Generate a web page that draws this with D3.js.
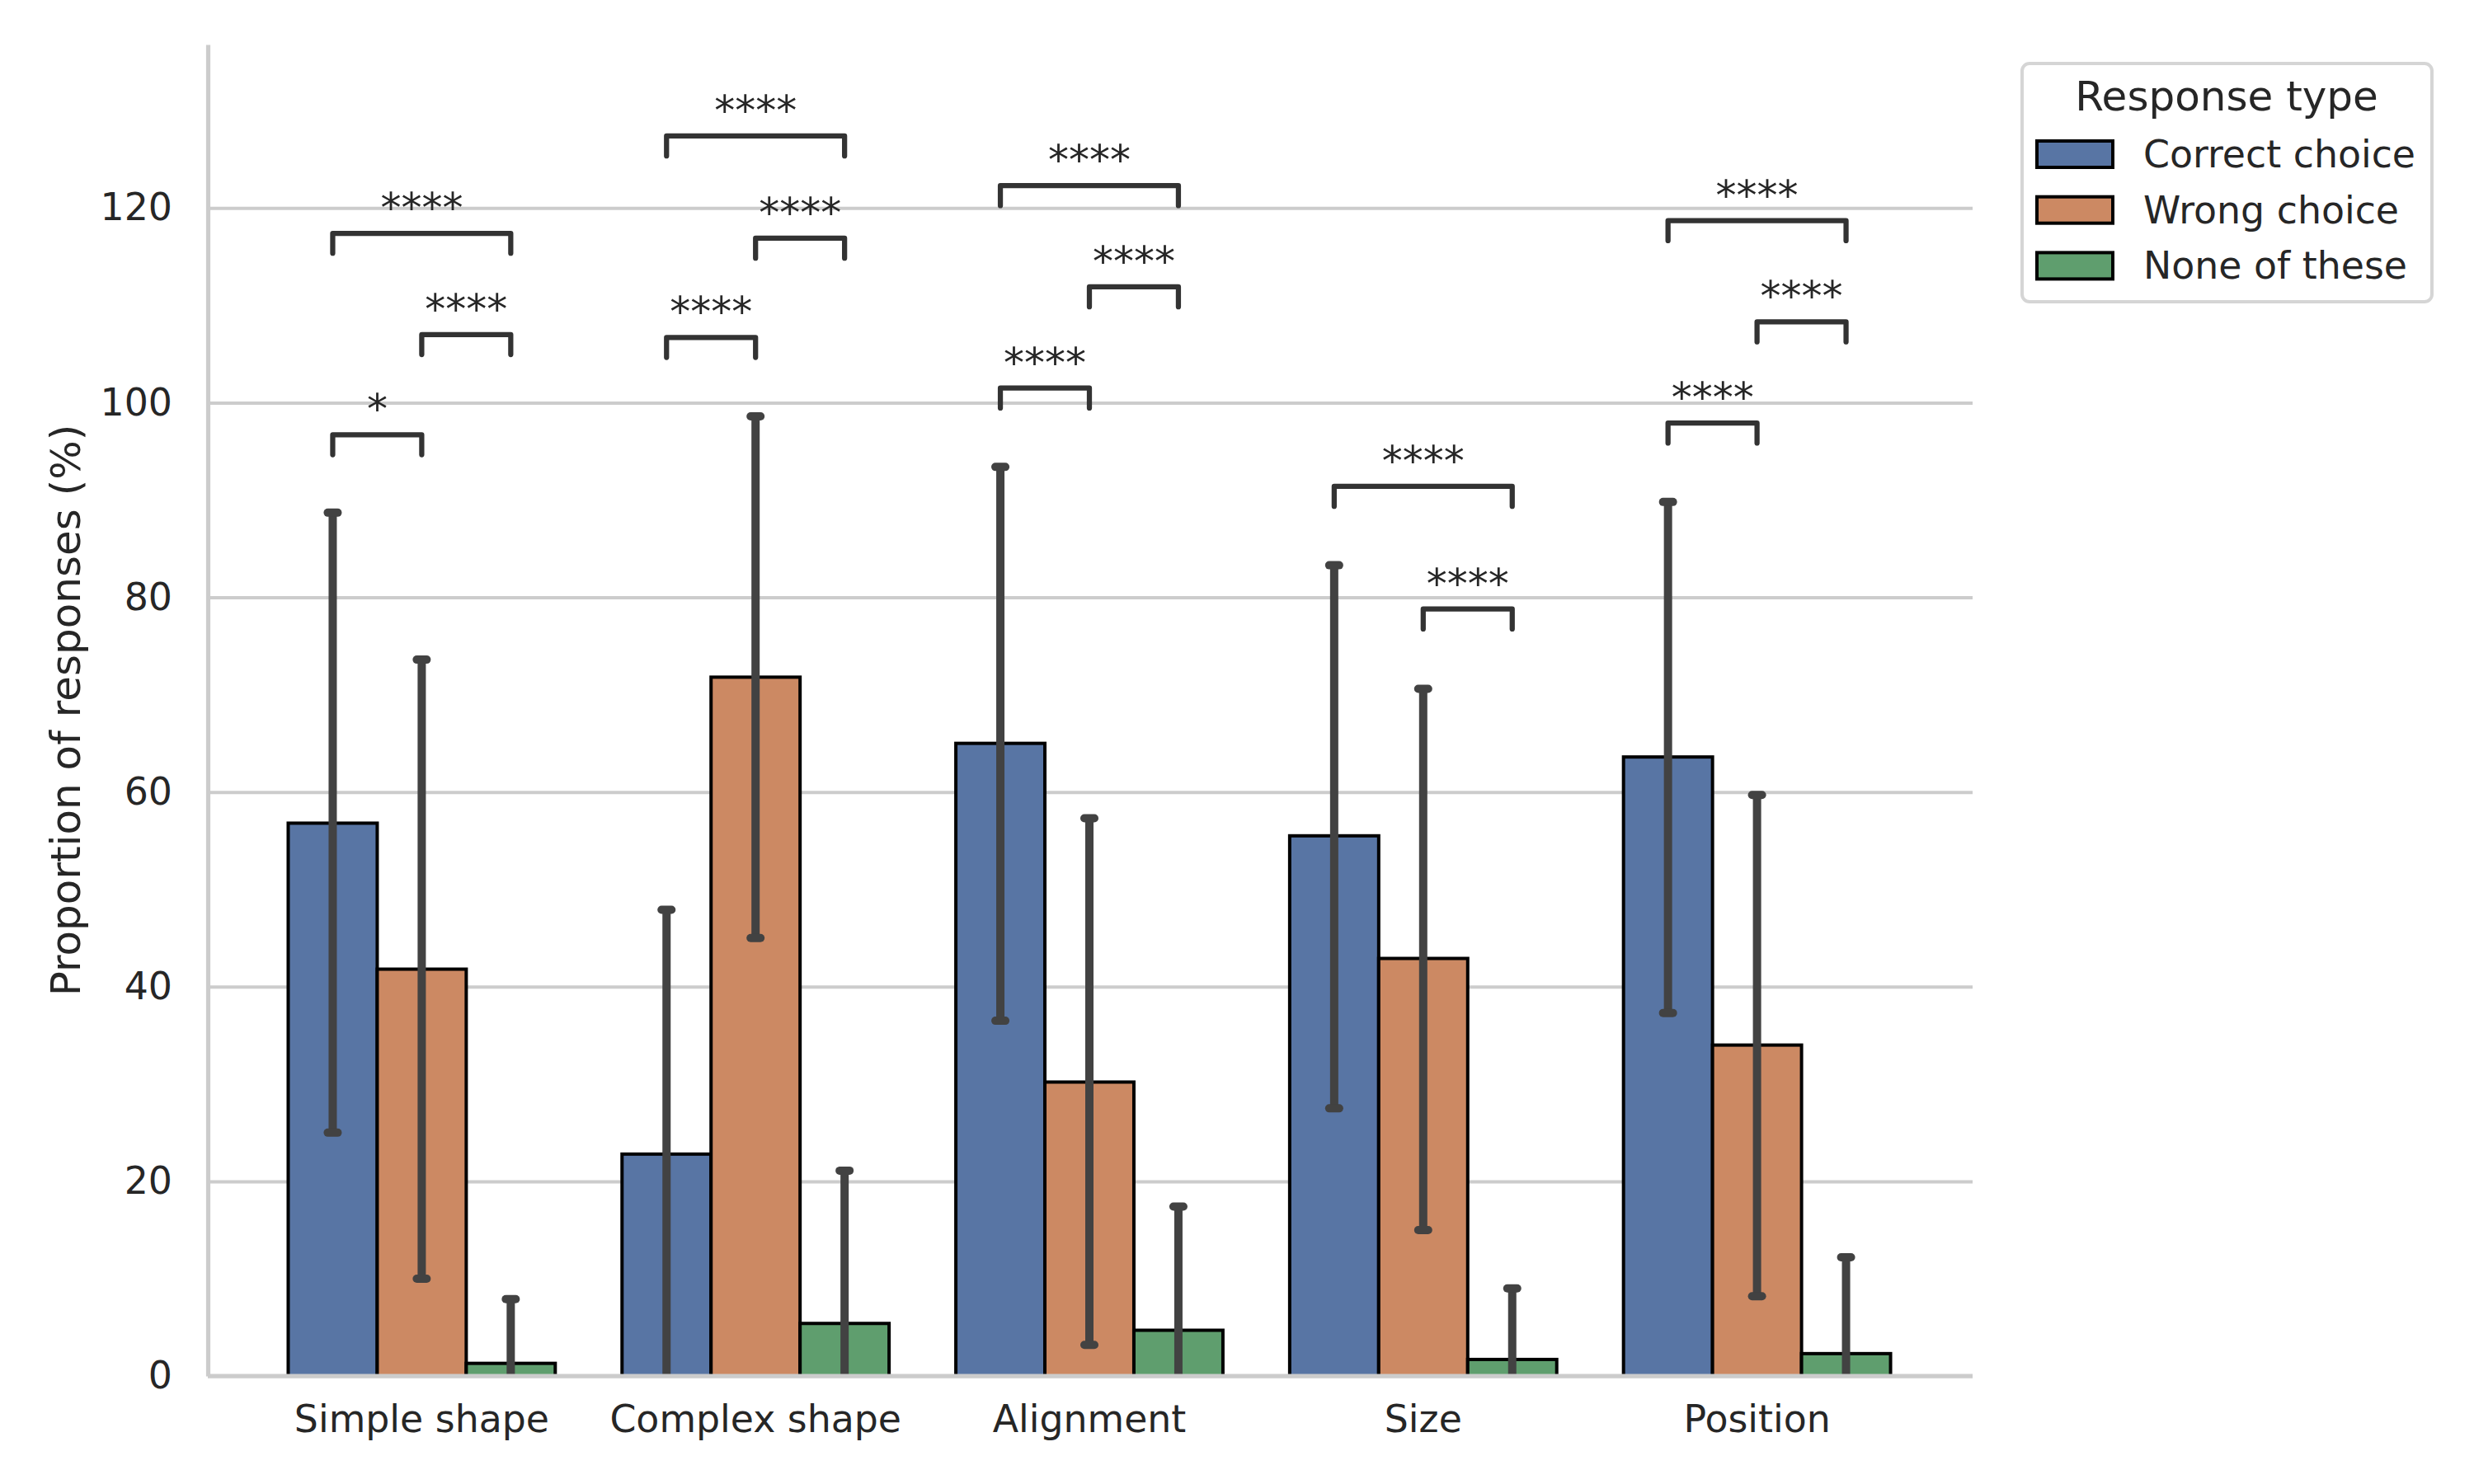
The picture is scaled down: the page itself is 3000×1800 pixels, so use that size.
<!DOCTYPE html>
<html>
<head>
<meta charset="utf-8">
<script src="https://cdn.jsdelivr.net/npm/d3@7"></script>
<style>
  body { margin: 0; background: #fff; }
  text { font-family: 'DejaVu Sans', sans-serif; fill: #262626; }
</style>
</head>
<body>
<svg id="chart" width="3000" height="1800"></svg>
<script>
const categories = ['Simple shape', 'Complex shape', 'Alignment', 'Size', 'Position'];
const responseTypes = ['Correct choice', 'Wrong choice', 'None of these'];
const typeColors = ['#5875a4', '#cc8963', '#5f9e6e'];

// mean and error bar ends (%)
const correctMean = [56.8, 22.8, 65.0, 55.5, 63.6];
const correctLow = [25.0, -2.3, 36.5, 27.5, 37.3];
const correctHigh = [88.7, 47.9, 93.4, 83.3, 89.8];
const wrongMean = [41.8, 71.8, 30.2, 42.9, 34.0];
const wrongLow = [10.0, 45.0, 3.2, 15.0, 8.2];
const wrongHigh = [73.6, 98.6, 57.3, 70.6, 59.7];
const noneMean = [1.3, 5.4, 4.7, 1.7, 2.3];
const noneLow = [-5.3, -10.3, -8.0, -5.6, -7.6];
const noneHigh = [7.9, 21.1, 17.4, 9.0, 12.2];

// significance brackets
const annotCategory = ['Simple shape', 'Simple shape', 'Simple shape',
  'Complex shape', 'Complex shape', 'Complex shape',
  'Alignment', 'Alignment', 'Alignment',
  'Size', 'Size',
  'Position', 'Position', 'Position'];
const annotFrom = ['Correct choice', 'Wrong choice', 'Correct choice',
  'Correct choice', 'Wrong choice', 'Correct choice',
  'Correct choice', 'Wrong choice', 'Correct choice',
  'Wrong choice', 'Correct choice',
  'Correct choice', 'Wrong choice', 'Correct choice'];
const annotTo = ['Wrong choice', 'None of these', 'None of these',
  'Wrong choice', 'None of these', 'None of these',
  'Wrong choice', 'None of these', 'None of these',
  'None of these', 'None of these',
  'Wrong choice', 'None of these', 'None of these'];
const annotLabel = ['*', '****', '****', '****', '****', '****', '****', '****', '****',
  '****', '****', '****', '****', '****'];
const annotLevel = [96.7, 107.0, 117.4, 106.7, 116.9, 127.4, 101.5, 111.9, 122.3,
  78.8, 91.4, 97.9, 108.3, 118.7];

const yTicks = [0, 20, 40, 60, 80, 100, 120];
const yMax = 136.8;

const svg = d3.select('#chart');

const plotLeft = 252, plotRight = 2392, plotTop = 54, plotBottom = 1669;

const x = d3.scaleBand().domain(categories).range([309, 2333]);
const xSub = d3.scaleBand().domain(responseTypes)
  .range([x.bandwidth() * 0.1, x.bandwidth() * 0.9]);
const y = d3.scaleLinear().domain([0, yMax]).range([plotBottom, plotTop]);
const color = d3.scaleOrdinal().domain(responseTypes).range(typeColors);

const rows = [];
categories.forEach((c, i) => {
  rows.push({ cat: c, type: responseTypes[0], mean: correctMean[i], lo: correctLow[i], hi: correctHigh[i] });
  rows.push({ cat: c, type: responseTypes[1], mean: wrongMean[i], lo: wrongLow[i], hi: wrongHigh[i] });
  rows.push({ cat: c, type: responseTypes[2], mean: noneMean[i], lo: noneLow[i], hi: noneHigh[i] });
});
const cx = (c, t) => x(c) + xSub(t) + xSub.bandwidth() / 2;

svg.append('defs').append('clipPath').attr('id', 'plot-clip')
  .append('rect')
  .attr('x', plotLeft).attr('y', plotTop)
  .attr('width', plotRight - plotLeft).attr('height', plotBottom - plotTop);

// grid
svg.append('g')
  .attr('transform', 'translate(' + plotLeft + ',0)')
  .call(d3.axisLeft(y).tickValues(yTicks).tickSize(-(plotRight - plotLeft)).tickFormat(''))
  .call(g => g.select('.domain').remove())
  .call(g => g.selectAll('line').attr('stroke', '#cccccc').attr('stroke-width', 4));

// bars
svg.append('g')
  .selectAll('rect')
  .data(rows)
  .enter()
  .append('rect')
  .attr('x', d => x(d.cat) + xSub(d.type))
  .attr('y', d => y(d.mean))
  .attr('width', xSub.bandwidth())
  .attr('height', d => y(0) - y(d.mean))
  .attr('fill', d => color(d.type))
  .attr('stroke', '#000')
  .attr('stroke-width', 4);

// error bars
const err = svg.append('g').attr('clip-path', 'url(#plot-clip)');
err.selectAll('line.err')
  .data(rows)
  .enter()
  .append('line')
  .attr('class', 'err')
  .attr('x1', d => cx(d.cat, d.type))
  .attr('x2', d => cx(d.cat, d.type))
  .attr('y1', d => y(d.lo))
  .attr('y2', d => y(d.hi))
  .attr('stroke', '#424242')
  .attr('stroke-width', 10);
['lo', 'hi'].forEach(k => {
  err.selectAll('line.cap-' + k)
    .data(rows)
    .enter()
    .append('line')
    .attr('class', 'cap-' + k)
    .attr('x1', d => cx(d.cat, d.type) - 6)
    .attr('x2', d => cx(d.cat, d.type) + 6)
    .attr('y1', d => y(d[k]))
    .attr('y2', d => y(d[k]))
    .attr('stroke', '#424242')
    .attr('stroke-width', 10)
    .attr('stroke-linecap', 'round');
});

// spines
svg.append('line')
  .attr('x1', plotLeft).attr('x2', plotRight)
  .attr('y1', y(0)).attr('y2', y(0))
  .attr('stroke', '#cccccc').attr('stroke-width', 5.2);

const yAxis = svg.append('g')
  .attr('transform', 'translate(' + plotLeft + ',0)')
  .call(d3.axisLeft(y).tickValues(yTicks).tickSize(0).tickSizeOuter(0).tickPadding(43));
yAxis.select('.domain').attr('stroke', '#cccccc').attr('stroke-width', 5.2);
yAxis.selectAll('text').attr('font-size', 45.8).attr('fill', '#262626')
  .attr('font-family', 'DejaVu Sans');

const xAxis = svg.append('g')
  .attr('transform', 'translate(0,' + y(0) + ')')
  .call(d3.axisBottom(x).tickSize(0).tickPadding(35.5));
xAxis.select('.domain').remove();
xAxis.selectAll('text').attr('font-size', 45.8).attr('fill', '#262626')
  .attr('font-family', 'DejaVu Sans');

svg.append('text')
  .attr('transform', 'translate(97,' + (plotTop + plotBottom) / 2 + ') rotate(-90)')
  .attr('text-anchor', 'middle')
  .attr('font-size', 50)
  .text('Proportion of responses (%)');

// significance annotations
const tip = 2.05;
const annot = svg.append('g');
annotLabel.forEach((lab, i) => {
  const x1 = cx(annotCategory[i], annotFrom[i]);
  const x2 = cx(annotCategory[i], annotTo[i]);
  const yl = y(annotLevel[i]);
  const yt = y(annotLevel[i] - tip);
  annot.append('path')
    .attr('d', 'M' + x1 + ',' + yt + 'L' + x1 + ',' + yl + 'L' + x2 + ',' + yl + 'L' + x2 + ',' + yt)
    .attr('fill', 'none')
    .attr('stroke', '#333333')
    .attr('stroke-width', 6.25)
    .attr('stroke-linecap', 'round')
    .attr('stroke-linejoin', 'round');
  annot.append('text')
    .attr('x', (x1 + x2) / 2)
    .attr('y', yl - 14)
    .attr('text-anchor', 'middle')
    .attr('font-size', 50)
    .attr('fill', '#262626')
    .text(lab);
});

// legend
const lg = svg.append('g');
lg.append('rect')
  .attr('x', 2452).attr('y', 77)
  .attr('width', 497).attr('height', 289)
  .attr('rx', 9)
  .attr('fill', '#fff')
  .attr('stroke', '#d5d5d5')
  .attr('stroke-width', 4);
lg.append('text')
  .attr('x', 2700).attr('y', 134)
  .attr('text-anchor', 'middle')
  .attr('font-size', 50)
  .text('Response type');
const item = lg.selectAll('g.item')
  .data(responseTypes)
  .enter()
  .append('g')
  .attr('class', 'item')
  .attr('transform', (d, i) => 'translate(2470,' + (187 + i * 67.7) + ')');
item.append('rect')
  .attr('x', 0).attr('y', -16)
  .attr('width', 92).attr('height', 32)
  .attr('fill', d => color(d))
  .attr('stroke', '#000')
  .attr('stroke-width', 4);
item.append('text')
  .attr('x', 129).attr('y', 16)
  .attr('font-size', 45.8)
  .text(d => d);
</script>
</body>
</html>
